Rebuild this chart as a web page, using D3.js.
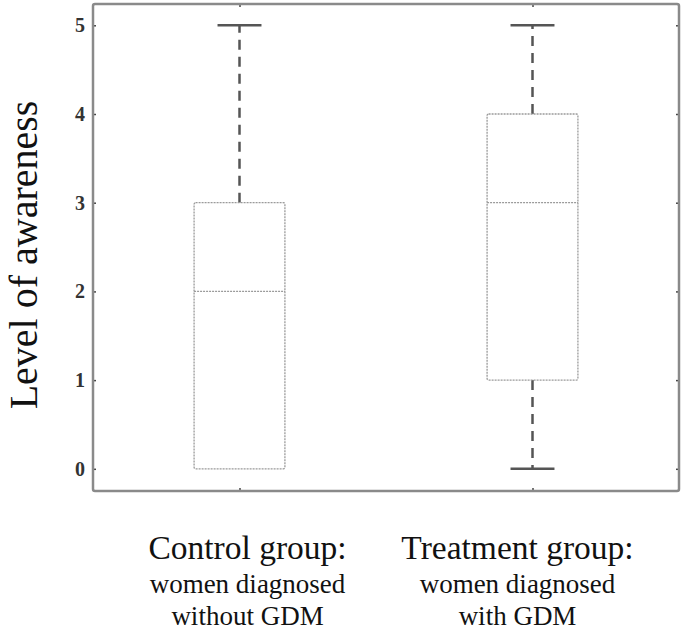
<!DOCTYPE html>
<html>
<head>
<meta charset="utf-8">
<script src="https://cdn.jsdelivr.net/npm/d3@7"></script>
<style>
  body { margin: 0; background: #fff; }
</style>
</head>
<body>
<svg width="685" height="631"></svg>
<script>
    // box plot summary per group
    let groups = ["Control group:", "Treatment group:"];
    let subLabels = [["women diagnosed", "without GDM"], ["women diagnosed", "with GDM"]];
    let mins = [0, 0];
    let q1s = [0, 1];
    let medians = [2, 3];
    let q3s = [3, 4];
    let maxs = [5, 5];
    let yTicks = [0, 1, 2, 3, 4, 5];

    let margin = { top: 4, right: 6, bottom: 140, left: 93 };
    let width = 685;
    let height = 631;
    let serif = "Liberation Serif";

    let svg = d3.select("svg");

    let x = d3.scaleLinear()
        .domain([0.5, 2.5])
        .range([margin.left, width - margin.right]);

    let y = d3.scaleLinear()
        .domain([-0.25, 5.24])
        .range([height - margin.bottom, margin.top]);

    let data = groups.map((g, i) => ({
        name: g, sub: subLabels[i], pos: i + 1,
        min: mins[i], q1: q1s[i], med: medians[i], q3: q3s[i], max: maxs[i]
    }));

    let boxW = 0.31;
    let capW = 0.15;

    // inward ticks on all four sides
    let axisCol = "#8a8a8a";
    svg.append("g")
        .attr("transform", `translate(${margin.left},0)`)
        .call(d3.axisRight(y).tickValues(yTicks).tickSize(3).tickFormat(""))
        .call(g => g.select(".domain").remove())
        .selectAll("line").attr("stroke", "#444").attr("stroke-width", 1.5);
    svg.append("g")
        .attr("transform", `translate(${width - margin.right},0)`)
        .call(d3.axisLeft(y).tickValues(yTicks).tickSize(3).tickFormat(""))
        .call(g => g.select(".domain").remove())
        .selectAll("line").attr("stroke", "#444").attr("stroke-width", 1.5);
    svg.append("g")
        .attr("transform", `translate(0,${margin.top})`)
        .call(d3.axisBottom(x).tickValues([1, 2]).tickSize(3).tickFormat(""))
        .call(g => g.select(".domain").remove())
        .selectAll("line").attr("stroke", "#444").attr("stroke-width", 1.5);
    svg.append("g")
        .attr("transform", `translate(0,${height - margin.bottom})`)
        .call(d3.axisTop(x).tickValues([1, 2]).tickSize(3).tickFormat(""))
        .call(g => g.select(".domain").remove())
        .selectAll("line").attr("stroke", "#444").attr("stroke-width", 1.5);

    // y tick labels
    svg.append("g")
        .selectAll("text")
        .data(yTicks)
        .join("text")
        .attr("x", margin.left - 8)
        .attr("y", d => y(d))
        .attr("dy", "0.35em")
        .attr("text-anchor", "end")
        .style("font-family", serif)
        .style("font-size", "20px")
        .style("font-weight", "bold")
        .style("fill", "#333")
        .text(d => d);

    // frame
    svg.append("rect")
        .attr("x", margin.left)
        .attr("y", margin.top)
        .attr("width", width - margin.right - margin.left)
        .attr("height", height - margin.bottom - margin.top)
        .attr("rx", 2)
        .attr("fill", "none")
        .attr("stroke", axisCol)
        .attr("stroke-width", 2.5);

    let boxes = svg.append("g")
        .selectAll("g")
        .data(data)
        .join("g");

    // whiskers
    boxes.append("line")
        .attr("x1", d => x(d.pos)).attr("x2", d => x(d.pos))
        .attr("y1", d => y(d.q3)).attr("y2", d => y(d.max))
        .attr("stroke", "#555").attr("stroke-width", 2.5)
        .attr("stroke-dasharray", "10,7");
    boxes.filter(d => d.q1 > d.min).append("line")
        .attr("x1", d => x(d.pos)).attr("x2", d => x(d.pos))
        .attr("y1", d => y(d.q1)).attr("y2", d => y(d.min))
        .attr("stroke", "#555").attr("stroke-width", 2.5)
        .attr("stroke-dasharray", "10,7");

    // caps
    boxes.append("line")
        .attr("x1", d => x(d.pos - capW / 2)).attr("x2", d => x(d.pos + capW / 2))
        .attr("y1", d => y(d.max)).attr("y2", d => y(d.max))
        .attr("stroke", "#555").attr("stroke-width", 2.5);
    boxes.filter(d => d.q1 > d.min).append("line")
        .attr("x1", d => x(d.pos - capW / 2)).attr("x2", d => x(d.pos + capW / 2))
        .attr("y1", d => y(d.min)).attr("y2", d => y(d.min))
        .attr("stroke", "#555").attr("stroke-width", 2.5);

    // box
    boxes.append("rect")
        .attr("x", d => x(d.pos - boxW / 2))
        .attr("y", d => y(d.q3))
        .attr("width", d => x(d.pos + boxW / 2) - x(d.pos - boxW / 2))
        .attr("height", d => y(d.q1) - y(d.q3))
        .attr("rx", 1.5)
        .attr("fill", "#fff")
        .attr("stroke", "#9a9a9a")
        .attr("stroke-width", 1.3)
        .attr("stroke-dasharray", "2,1");

    // median
    boxes.append("line")
        .attr("x1", d => x(d.pos - boxW / 2)).attr("x2", d => x(d.pos + boxW / 2))
        .attr("y1", d => y(d.med)).attr("y2", d => y(d.med))
        .attr("stroke", "#9a9a9a").attr("stroke-width", 1.3)
        .attr("stroke-dasharray", "2,1");

    // category labels
    let labelShift = [8, -15];
    let cat = svg.append("g")
        .selectAll("g")
        .data(data)
        .join("g")
        .attr("transform", (d, i) => `translate(${x(d.pos) + labelShift[i]},0)`);
    cat.append("text")
        .attr("y", 559)
        .attr("text-anchor", "middle")
        .style("font-family", serif)
        .style("font-size", "33.5px")
        .style("fill", "#111")
        .text(d => d.name);
    cat.append("text")
        .attr("y", 593)
        .attr("text-anchor", "middle")
        .style("font-family", serif)
        .style("font-size", "27px")
        .style("fill", "#111")
        .text(d => d.sub[0]);
    cat.append("text")
        .attr("y", 625)
        .attr("text-anchor", "middle")
        .style("font-family", serif)
        .style("font-size", "27px")
        .style("fill", "#111")
        .text(d => d.sub[1]);

    // y axis title
    svg.append("text")
        .attr("transform", `translate(37,255) rotate(-90)`)
        .attr("text-anchor", "middle")
        .style("font-family", serif)
        .style("font-size", "40px")
        .style("fill", "#111")
        .text("Level of awareness");
</script>
</body>
</html>
